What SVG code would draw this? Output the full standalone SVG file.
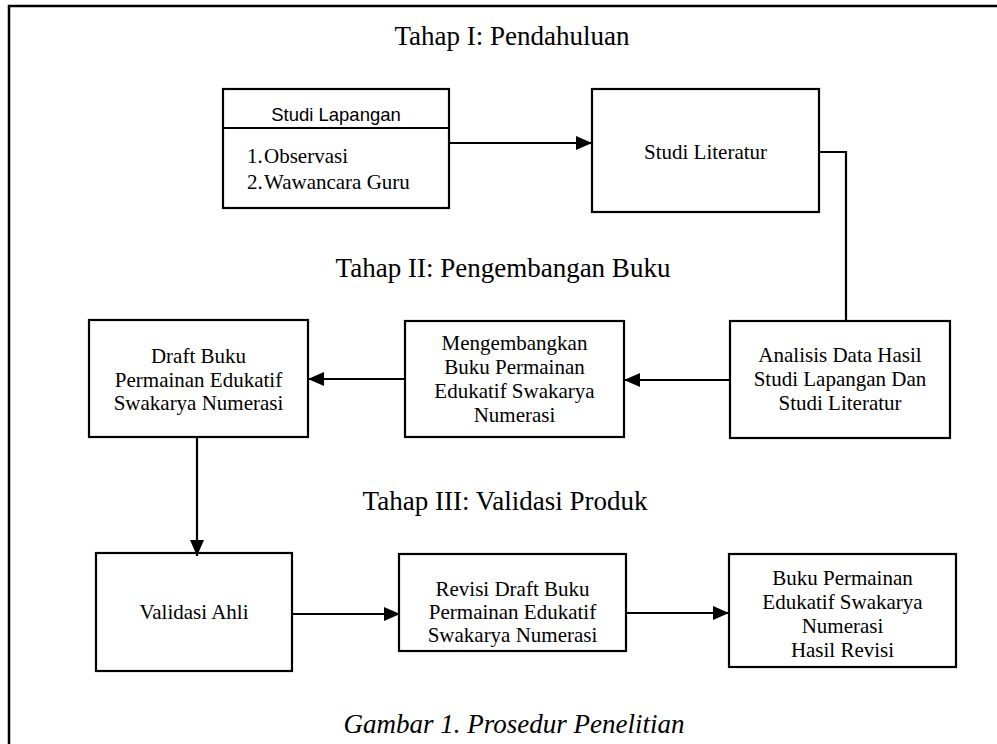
<svg xmlns="http://www.w3.org/2000/svg" width="997" height="744" viewBox="0 0 997 744">
<style>
.box{fill:#fff;stroke:#000;stroke-width:2.2}
.t{font-family:"Liberation Serif","Times New Roman",serif;font-size:21px;fill:#000;text-anchor:middle}
.l{font-family:"Liberation Serif","Times New Roman",serif;font-size:21px;fill:#000;text-anchor:start}
.h{font-family:"Liberation Serif","Times New Roman",serif;font-size:27px;fill:#000;text-anchor:middle}
.s{font-family:"Liberation Sans",Arial,sans-serif;font-size:18.5px;fill:#000;text-anchor:middle}
.c{fill:none;stroke:#000;stroke-width:2.2}
</style>
<defs>
<marker id="ah" markerWidth="16" markerHeight="14" refX="16" refY="7" orient="auto" markerUnits="userSpaceOnUse">
<path d="M0,0 L16,7 L0,14 Z" fill="#000"/>
</marker>
</defs>
<rect width="997" height="744" fill="#fff"/>
<rect x="9" y="6" width="1000" height="760" fill="none" stroke="#000" stroke-width="2.5"/>
<g id="titles">
<text class="h" x="512" y="45">Tahap I: Pendahuluan</text>
<text class="h" x="503" y="277">Tahap II: Pengembangan Buku</text>
<text class="h" x="505" y="510">Tahap III: Validasi Produk</text>
<text class="h" x="514" y="733" font-style="italic">Gambar 1. Prosedur Penelitian</text>
</g>
<g id="studi-lapangan">
<rect class="box" x="223" y="89" width="226" height="119"/>
<line class="c" x1="223" y1="128" x2="449" y2="128"/>
<text class="s" x="336" y="121">Studi Lapangan</text>
<text class="l" x="247" y="163">1.</text>
<text class="l" x="264" y="163">Observasi</text>
<text class="l" x="247" y="189">2.</text>
<text class="l" x="264" y="189">Wawancara Guru</text>
</g>
<g id="studi-literatur">
<rect class="box" x="592" y="89" width="227" height="123"/>
<text class="t" x="705.5" y="159">Studi Literatur</text>
</g>
<g id="analisis">
<rect class="box" x="730" y="321" width="220" height="117"/>
<text class="t" x="840" y="362">Analisis Data Hasil</text>
<text class="t" x="840" y="386">Studi Lapangan Dan</text>
<text class="t" x="840" y="410">Studi Literatur</text>
</g>
<g id="mengembangkan">
<rect class="box" x="405" y="321" width="219" height="116"/>
<text class="t" x="514.5" y="350">Mengembangkan</text>
<text class="t" x="514.5" y="374">Buku Permainan</text>
<text class="t" x="514.5" y="398">Edukatif Swakarya</text>
<text class="t" x="514.5" y="422">Numerasi</text>
</g>
<g id="draft">
<rect class="box" x="89" y="320" width="219" height="117"/>
<text class="t" x="198.5" y="363">Draft Buku</text>
<text class="t" x="198.5" y="387">Permainan Edukatif</text>
<text class="t" x="198.5" y="410">Swakarya Numerasi</text>
</g>
<g id="validasi">
<rect class="box" x="96" y="553" width="196" height="118"/>
<text class="t" x="194" y="619">Validasi Ahli</text>
</g>
<g id="revisi">
<rect class="box" x="399" y="554" width="227" height="97"/>
<text class="t" x="512.5" y="596">Revisi Draft Buku</text>
<text class="t" x="512.5" y="619">Permainan Edukatif</text>
<text class="t" x="512.5" y="642">Swakarya Numerasi</text>
</g>
<g id="hasil">
<rect class="box" x="729" y="554" width="227" height="113"/>
<text class="t" x="842.5" y="585">Buku Permainan</text>
<text class="t" x="842.5" y="609">Edukatif Swakarya</text>
<text class="t" x="842.5" y="633">Numerasi</text>
<text class="t" x="842.5" y="657">Hasil Revisi</text>
</g>
<g id="connectors">
<line class="c" x1="449" y1="143" x2="592" y2="143" marker-end="url(#ah)"/>
<polyline class="c" points="819,152 846,152 846,321"/>
<line class="c" x1="730" y1="380" x2="624" y2="380" marker-end="url(#ah)"/>
<line class="c" x1="405" y1="379" x2="308" y2="379" marker-end="url(#ah)"/>
<line class="c" x1="197" y1="437" x2="197" y2="556" marker-end="url(#ah)"/>
<line class="c" x1="292" y1="614" x2="400" y2="614" marker-end="url(#ah)"/>
<line class="c" x1="626" y1="613" x2="729" y2="613" marker-end="url(#ah)"/>
</g>
</svg>
